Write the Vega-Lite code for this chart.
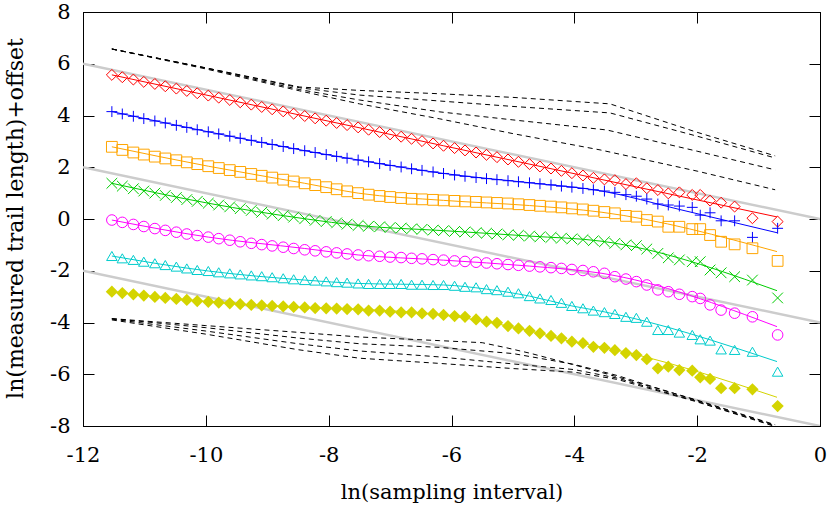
{
"$schema":"https://vega.github.io/schema/vega-lite/v6.json",
"width":737,"height":414,
"autosize":{"type":"none"},
"padding":{"left":83,"top":12,"right":10,"bottom":83},
"background":"white",
"config":{
 "view":{"stroke":"black","strokeWidth":1},
 "font":"DejaVu Serif",
 "axis":{"labelFont":"DejaVu Serif","titleFont":"DejaVu Serif","labelFontSize":21,"titleFontSize":22,"titleFontWeight":"normal","labelColor":"black","titleColor":"black","domainColor":"black","tickColor":"black","grid":false,"tickSize":-11,"labelFlush":false,"labelOverlap":false,"labelBound":false}
},
"datasets":{
"gray":[
{"g":"g1","x":-12,"y":6},{"g":"g1","x":0,"y":0},
{"g":"g2","x":-12,"y":2},{"g":"g2","x":0,"y":-4},
{"g":"g3","x":-12,"y":-2},{"g":"g3","x":0,"y":-8}
],
"dash":[
{"g":"t1","x":-11.53,"y":6.57},{"g":"t1","x":-10,"y":5.84},{"g":"t1","x":-8.47,"y":5.1},{"g":"t1","x":-7.5,"y":4.97},{"g":"t1","x":-6.19,"y":4.84},{"g":"t1","x":-5,"y":4.7},{"g":"t1","x":-3.42,"y":4.45},{"g":"t1","x":-2,"y":3.35},{"g":"t1","x":-0.73,"y":2.44},
{"g":"t2","x":-11.53,"y":6.57},{"g":"t2","x":-10,"y":5.84},{"g":"t2","x":-8.47,"y":5.07},{"g":"t2","x":-7.5,"y":4.79},{"g":"t2","x":-6.19,"y":4.56},{"g":"t2","x":-5,"y":4.35},{"g":"t2","x":-3.42,"y":4.1},{"g":"t2","x":-2,"y":3.2},{"g":"t2","x":-0.73,"y":2.36},
{"g":"t3","x":-11.53,"y":6.57},{"g":"t3","x":-10,"y":5.83},{"g":"t3","x":-8.47,"y":5.0},{"g":"t3","x":-7.5,"y":4.6},{"g":"t3","x":-6.19,"y":4.14},{"g":"t3","x":-5,"y":3.83},{"g":"t3","x":-3.47,"y":3.44},{"g":"t3","x":-2,"y":2.62},{"g":"t3","x":-0.73,"y":1.9},
{"g":"t4","x":-11.53,"y":6.57},{"g":"t4","x":-10,"y":5.8},{"g":"t4","x":-8.47,"y":4.95},{"g":"t4","x":-7.5,"y":4.45},{"g":"t4","x":-6.19,"y":3.87},{"g":"t4","x":-5,"y":3.3},{"g":"t4","x":-3.58,"y":2.67},{"g":"t4","x":-2,"y":1.85},{"g":"t4","x":-0.73,"y":1.13},
{"g":"b1","x":-11.53,"y":-3.85},{"g":"b1","x":-10,"y":-4.12},{"g":"b1","x":-8.5,"y":-4.38},{"g":"b1","x":-7.5,"y":-4.56},{"g":"b1","x":-6.2,"y":-4.7},{"g":"b1","x":-5.5,"y":-4.78},{"g":"b1","x":-5.1,"y":-4.98},{"g":"b1","x":-4.7,"y":-5.2},{"g":"b1","x":-4.0,"y":-5.64},{"g":"b1","x":-3.3,"y":-6.1},{"g":"b1","x":-2,"y":-7.0},{"g":"b1","x":-0.73,"y":-7.95},
{"g":"b2","x":-11.53,"y":-3.85},{"g":"b2","x":-10,"y":-4.2},{"g":"b2","x":-8.5,"y":-4.6},{"g":"b2","x":-7.5,"y":-4.82},{"g":"b2","x":-6.2,"y":-4.96},{"g":"b2","x":-5,"y":-5.2},{"g":"b2","x":-4,"y":-5.62},{"g":"b2","x":-3.3,"y":-6.05},{"g":"b2","x":-2,"y":-7.02},{"g":"b2","x":-0.73,"y":-7.97},
{"g":"b3","x":-11.53,"y":-3.87},{"g":"b3","x":-10,"y":-4.33},{"g":"b3","x":-8.5,"y":-4.82},{"g":"b3","x":-7.5,"y":-5.1},{"g":"b3","x":-6.2,"y":-5.33},{"g":"b3","x":-5,"y":-5.6},{"g":"b3","x":-4,"y":-5.82},{"g":"b3","x":-3.3,"y":-6.15},{"g":"b3","x":-2,"y":-7.05},{"g":"b3","x":-0.73,"y":-8.0},
{"g":"b4","x":-11.53,"y":-3.9},{"g":"b4","x":-10,"y":-4.45},{"g":"b4","x":-8.5,"y":-5.05},{"g":"b4","x":-7.5,"y":-5.38},{"g":"b4","x":-6.2,"y":-5.58},{"g":"b4","x":-5,"y":-5.78},{"g":"b4","x":-4,"y":-5.92},{"g":"b4","x":-3.3,"y":-6.2},{"g":"b4","x":-2,"y":-7.07},{"g":"b4","x":-0.73,"y":-8.02}
],
"fit":[
{"s":"A","x":-11.53,"y":5.57},{"s":"A","x":-6.13,"y":2.83},{"s":"A","x":-0.70,"y":0.08},
{"s":"B","x":-11.53,"y":4.15},{"s":"B","x":-9.96,"y":3.37},{"s":"B","x":-8.39,"y":2.64},{"s":"B","x":-7.52,"y":2.28},{"s":"B","x":-6.13,"y":1.76},{"s":"B","x":-4.73,"y":1.40},{"s":"B","x":-3.55,"y":1.08},{"s":"B","x":-2.29,"y":0.37},{"s":"B","x":-0.70,"y":-0.53},
{"s":"C","x":-11.53,"y":2.79},{"s":"C","x":-9.96,"y":2.04},{"s":"C","x":-8.39,"y":1.38},{"s":"C","x":-7.52,"y":1.0},{"s":"C","x":-6.13,"y":0.72},{"s":"C","x":-4.73,"y":0.52},{"s":"C","x":-3.55,"y":0.26},{"s":"C","x":-0.70,"y":-1.26},
{"s":"D","x":-11.53,"y":1.38},{"s":"D","x":-9.96,"y":0.61},{"s":"D","x":-8.39,"y":0.01},{"s":"D","x":-7.52,"y":-0.25},{"s":"D","x":-6.13,"y":-0.45},{"s":"D","x":-4.73,"y":-0.66},{"s":"D","x":-3.55,"y":-0.86},{"s":"D","x":-0.70,"y":-2.77},
{"s":"E","x":-11.53,"y":-0.04},{"s":"E","x":-9.96,"y":-0.70},{"s":"E","x":-8.39,"y":-1.14},{"s":"E","x":-7.52,"y":-1.39},{"s":"E","x":-6.13,"y":-1.59},{"s":"E","x":-4.73,"y":-1.82},{"s":"E","x":-3.55,"y":-2.10},{"s":"E","x":-0.70,"y":-4.16},
{"s":"F","x":-11.53,"y":-1.43},{"s":"F","x":-9.96,"y":-2.01},{"s":"F","x":-8.39,"y":-2.36},{"s":"F","x":-7.52,"y":-2.49},{"s":"F","x":-6.13,"y":-2.55},{"s":"F","x":-5.43,"y":-2.71},{"s":"F","x":-4.73,"y":-2.98},{"s":"F","x":-4.04,"y":-3.36},{"s":"F","x":-3.55,"y":-3.57},{"s":"F","x":-0.70,"y":-5.51},
{"s":"G","x":-11.53,"y":-2.81},{"s":"G","x":-9.96,"y":-3.20},{"s":"G","x":-8.39,"y":-3.42},{"s":"G","x":-7.52,"y":-3.49},{"s":"G","x":-6.13,"y":-3.71},{"s":"G","x":-5.43,"y":-3.97},{"s":"G","x":-4.73,"y":-4.32},{"s":"G","x":-4.04,"y":-4.74},{"s":"G","x":-3.55,"y":-4.95},{"s":"G","x":-0.70,"y":-6.89}
],
"pts":[
{"s":"A","x":-11.53,"y":5.57},{"s":"A","x":-11.36,"y":5.48},{"s":"A","x":-11.18,"y":5.39},{"s":"A","x":-11.01,"y":5.30},{"s":"A","x":-10.83,"y":5.22},{"s":"A","x":-10.66,"y":5.13},{"s":"A","x":-10.48,"y":5.04},{"s":"A","x":-10.31,"y":4.95},{"s":"A","x":-10.14,"y":4.86},{"s":"A","x":-9.96,"y":4.77},{"s":"A","x":-9.79,"y":4.69},{"s":"A","x":-9.61,"y":4.60},{"s":"A","x":-9.44,"y":4.51},{"s":"A","x":-9.26,"y":4.42},{"s":"A","x":-9.09,"y":4.33},{"s":"A","x":-8.92,"y":4.24},{"s":"A","x":-8.74,"y":4.16},{"s":"A","x":-8.57,"y":4.07},{"s":"A","x":-8.39,"y":3.98},{"s":"A","x":-8.22,"y":3.89},{"s":"A","x":-8.04,"y":3.80},{"s":"A","x":-7.87,"y":3.71},{"s":"A","x":-7.70,"y":3.63},{"s":"A","x":-7.52,"y":3.54},{"s":"A","x":-7.35,"y":3.45},{"s":"A","x":-7.17,"y":3.36},{"s":"A","x":-7.00,"y":3.27},{"s":"A","x":-6.82,"y":3.18},{"s":"A","x":-6.65,"y":3.10},{"s":"A","x":-6.48,"y":3.01},{"s":"A","x":-6.30,"y":2.92},{"s":"A","x":-6.13,"y":2.83},{"s":"A","x":-5.95,"y":2.74},{"s":"A","x":-5.78,"y":2.65},{"s":"A","x":-5.60,"y":2.57},{"s":"A","x":-5.43,"y":2.48},{"s":"A","x":-5.26,"y":2.39},{"s":"A","x":-5.08,"y":2.30},{"s":"A","x":-4.91,"y":2.21},{"s":"A","x":-4.73,"y":2.12},{"s":"A","x":-4.56,"y":2.03},{"s":"A","x":-4.38,"y":1.95},{"s":"A","x":-4.21,"y":1.86},{"s":"A","x":-4.04,"y":1.77},{"s":"A","x":-3.86,"y":1.68},{"s":"A","x":-3.69,"y":1.59},{"s":"A","x":-3.51,"y":1.53},{"s":"A","x":-3.34,"y":1.50},{"s":"A","x":-3.16,"y":1.35},{"s":"A","x":-2.99,"y":1.38},{"s":"A","x":-2.82,"y":1.19},{"s":"A","x":-2.64,"y":1.12},{"s":"A","x":-2.47,"y":0.99},{"s":"A","x":-2.29,"y":1.03},{"s":"A","x":-2.08,"y":0.93},{"s":"A","x":-1.95,"y":0.93},{"s":"A","x":-1.79,"y":0.71},{"s":"A","x":-1.61,"y":0.63},{"s":"A","x":-1.39,"y":0.48},{"s":"A","x":-1.10,"y":0.03},{"s":"A","x":-0.69,"y":-0.10},
{"s":"B","x":-11.53,"y":4.15},{"s":"B","x":-11.36,"y":4.06},{"s":"B","x":-11.18,"y":3.97},{"s":"B","x":-11.01,"y":3.88},{"s":"B","x":-10.83,"y":3.79},{"s":"B","x":-10.66,"y":3.71},{"s":"B","x":-10.48,"y":3.62},{"s":"B","x":-10.31,"y":3.54},{"s":"B","x":-10.14,"y":3.45},{"s":"B","x":-9.96,"y":3.37},{"s":"B","x":-9.79,"y":3.29},{"s":"B","x":-9.61,"y":3.20},{"s":"B","x":-9.44,"y":3.12},{"s":"B","x":-9.26,"y":3.04},{"s":"B","x":-9.09,"y":2.96},{"s":"B","x":-8.92,"y":2.88},{"s":"B","x":-8.74,"y":2.80},{"s":"B","x":-8.57,"y":2.72},{"s":"B","x":-8.39,"y":2.64},{"s":"B","x":-8.22,"y":2.57},{"s":"B","x":-8.04,"y":2.49},{"s":"B","x":-7.87,"y":2.42},{"s":"B","x":-7.70,"y":2.35},{"s":"B","x":-7.52,"y":2.28},{"s":"B","x":-7.35,"y":2.21},{"s":"B","x":-7.17,"y":2.14},{"s":"B","x":-7.00,"y":2.07},{"s":"B","x":-6.82,"y":2.01},{"s":"B","x":-6.65,"y":1.94},{"s":"B","x":-6.48,"y":1.88},{"s":"B","x":-6.30,"y":1.82},{"s":"B","x":-6.13,"y":1.76},{"s":"B","x":-5.95,"y":1.70},{"s":"B","x":-5.78,"y":1.65},{"s":"B","x":-5.60,"y":1.60},{"s":"B","x":-5.43,"y":1.56},{"s":"B","x":-5.26,"y":1.52},{"s":"B","x":-5.08,"y":1.48},{"s":"B","x":-4.91,"y":1.44},{"s":"B","x":-4.73,"y":1.40},{"s":"B","x":-4.56,"y":1.36},{"s":"B","x":-4.38,"y":1.32},{"s":"B","x":-4.21,"y":1.27},{"s":"B","x":-4.04,"y":1.23},{"s":"B","x":-3.86,"y":1.18},{"s":"B","x":-3.69,"y":1.13},{"s":"B","x":-3.51,"y":1.08},{"s":"B","x":-3.34,"y":1.03},{"s":"B","x":-3.16,"y":0.94},{"s":"B","x":-2.99,"y":0.88},{"s":"B","x":-2.82,"y":0.77},{"s":"B","x":-2.64,"y":0.58},{"s":"B","x":-2.47,"y":0.54},{"s":"B","x":-2.29,"y":0.50},{"s":"B","x":-2.08,"y":0.45},{"s":"B","x":-1.95,"y":0.15},{"s":"B","x":-1.79,"y":0.24},{"s":"B","x":-1.61,"y":-0.07},{"s":"B","x":-1.39,"y":-0.07},{"s":"B","x":-1.10,"y":-0.71},{"s":"B","x":-0.69,"y":-0.36},
{"s":"C","x":-11.53,"y":2.79},{"s":"C","x":-11.36,"y":2.67},{"s":"C","x":-11.18,"y":2.57},{"s":"C","x":-11.01,"y":2.49},{"s":"C","x":-10.83,"y":2.41},{"s":"C","x":-10.66,"y":2.34},{"s":"C","x":-10.48,"y":2.27},{"s":"C","x":-10.31,"y":2.19},{"s":"C","x":-10.14,"y":2.12},{"s":"C","x":-9.96,"y":2.04},{"s":"C","x":-9.79,"y":1.97},{"s":"C","x":-9.61,"y":1.89},{"s":"C","x":-9.44,"y":1.82},{"s":"C","x":-9.26,"y":1.74},{"s":"C","x":-9.09,"y":1.67},{"s":"C","x":-8.92,"y":1.60},{"s":"C","x":-8.74,"y":1.52},{"s":"C","x":-8.57,"y":1.45},{"s":"C","x":-8.39,"y":1.38},{"s":"C","x":-8.22,"y":1.31},{"s":"C","x":-8.04,"y":1.23},{"s":"C","x":-7.87,"y":1.15},{"s":"C","x":-7.70,"y":1.07},{"s":"C","x":-7.52,"y":1.00},{"s":"C","x":-7.35,"y":0.94},{"s":"C","x":-7.17,"y":0.89},{"s":"C","x":-7.00,"y":0.85},{"s":"C","x":-6.82,"y":0.81},{"s":"C","x":-6.65,"y":0.78},{"s":"C","x":-6.48,"y":0.76},{"s":"C","x":-6.30,"y":0.74},{"s":"C","x":-6.13,"y":0.72},{"s":"C","x":-5.95,"y":0.70},{"s":"C","x":-5.78,"y":0.68},{"s":"C","x":-5.60,"y":0.66},{"s":"C","x":-5.43,"y":0.64},{"s":"C","x":-5.26,"y":0.62},{"s":"C","x":-5.08,"y":0.60},{"s":"C","x":-4.91,"y":0.57},{"s":"C","x":-4.73,"y":0.54},{"s":"C","x":-4.56,"y":0.51},{"s":"C","x":-4.38,"y":0.48},{"s":"C","x":-4.21,"y":0.45},{"s":"C","x":-4.04,"y":0.41},{"s":"C","x":-3.86,"y":0.37},{"s":"C","x":-3.69,"y":0.32},{"s":"C","x":-3.51,"y":0.27},{"s":"C","x":-3.34,"y":0.22},{"s":"C","x":-3.16,"y":0.12},{"s":"C","x":-2.99,"y":0.09},{"s":"C","x":-2.82,"y":-0.04},{"s":"C","x":-2.64,"y":-0.10},{"s":"C","x":-2.47,"y":-0.30},{"s":"C","x":-2.29,"y":-0.30},{"s":"C","x":-2.08,"y":-0.39},{"s":"C","x":-1.95,"y":-0.39},{"s":"C","x":-1.79,"y":-0.62},{"s":"C","x":-1.61,"y":-0.88},{"s":"C","x":-1.39,"y":-0.98},{"s":"C","x":-1.10,"y":-1.13},{"s":"C","x":-0.69,"y":-1.62},
{"s":"D","x":-11.53,"y":1.38},{"s":"D","x":-11.36,"y":1.27},{"s":"D","x":-11.18,"y":1.17},{"s":"D","x":-11.01,"y":1.08},{"s":"D","x":-10.83,"y":1.00},{"s":"D","x":-10.66,"y":0.91},{"s":"D","x":-10.48,"y":0.83},{"s":"D","x":-10.31,"y":0.75},{"s":"D","x":-10.14,"y":0.68},{"s":"D","x":-9.96,"y":0.61},{"s":"D","x":-9.79,"y":0.54},{"s":"D","x":-9.61,"y":0.47},{"s":"D","x":-9.44,"y":0.40},{"s":"D","x":-9.26,"y":0.33},{"s":"D","x":-9.09,"y":0.26},{"s":"D","x":-8.92,"y":0.19},{"s":"D","x":-8.74,"y":0.13},{"s":"D","x":-8.57,"y":0.07},{"s":"D","x":-8.39,"y":0.01},{"s":"D","x":-8.22,"y":-0.05},{"s":"D","x":-8.04,"y":-0.10},{"s":"D","x":-7.87,"y":-0.15},{"s":"D","x":-7.70,"y":-0.20},{"s":"D","x":-7.52,"y":-0.25},{"s":"D","x":-7.35,"y":-0.28},{"s":"D","x":-7.17,"y":-0.30},{"s":"D","x":-7.00,"y":-0.33},{"s":"D","x":-6.82,"y":-0.35},{"s":"D","x":-6.65,"y":-0.38},{"s":"D","x":-6.48,"y":-0.40},{"s":"D","x":-6.30,"y":-0.43},{"s":"D","x":-6.13,"y":-0.45},{"s":"D","x":-5.95,"y":-0.48},{"s":"D","x":-5.78,"y":-0.50},{"s":"D","x":-5.60,"y":-0.53},{"s":"D","x":-5.43,"y":-0.55},{"s":"D","x":-5.26,"y":-0.58},{"s":"D","x":-5.08,"y":-0.61},{"s":"D","x":-4.91,"y":-0.63},{"s":"D","x":-4.73,"y":-0.66},{"s":"D","x":-4.56,"y":-0.69},{"s":"D","x":-4.38,"y":-0.71},{"s":"D","x":-4.21,"y":-0.74},{"s":"D","x":-4.04,"y":-0.77},{"s":"D","x":-3.86,"y":-0.80},{"s":"D","x":-3.69,"y":-0.84},{"s":"D","x":-3.51,"y":-0.88},{"s":"D","x":-3.34,"y":-0.94},{"s":"D","x":-3.16,"y":-1.00},{"s":"D","x":-2.99,"y":-1.03},{"s":"D","x":-2.82,"y":-1.16},{"s":"D","x":-2.64,"y":-1.33},{"s":"D","x":-2.47,"y":-1.50},{"s":"D","x":-2.29,"y":-1.58},{"s":"D","x":-2.08,"y":-1.65},{"s":"D","x":-1.95,"y":-1.65},{"s":"D","x":-1.79,"y":-1.97},{"s":"D","x":-1.61,"y":-2.08},{"s":"D","x":-1.39,"y":-2.23},{"s":"D","x":-1.10,"y":-2.36},{"s":"D","x":-0.69,"y":-3.05},
{"s":"E","x":-11.53,"y":-0.04},{"s":"E","x":-11.36,"y":-0.13},{"s":"E","x":-11.18,"y":-0.21},{"s":"E","x":-11.01,"y":-0.29},{"s":"E","x":-10.83,"y":-0.37},{"s":"E","x":-10.66,"y":-0.44},{"s":"E","x":-10.48,"y":-0.51},{"s":"E","x":-10.31,"y":-0.58},{"s":"E","x":-10.14,"y":-0.64},{"s":"E","x":-9.96,"y":-0.70},{"s":"E","x":-9.79,"y":-0.76},{"s":"E","x":-9.61,"y":-0.82},{"s":"E","x":-9.44,"y":-0.88},{"s":"E","x":-9.26,"y":-0.94},{"s":"E","x":-9.09,"y":-0.99},{"s":"E","x":-8.92,"y":-1.04},{"s":"E","x":-8.74,"y":-1.09},{"s":"E","x":-8.57,"y":-1.14},{"s":"E","x":-8.39,"y":-1.19},{"s":"E","x":-8.22,"y":-1.23},{"s":"E","x":-8.04,"y":-1.27},{"s":"E","x":-7.87,"y":-1.31},{"s":"E","x":-7.70,"y":-1.35},{"s":"E","x":-7.52,"y":-1.39},{"s":"E","x":-7.35,"y":-1.42},{"s":"E","x":-7.17,"y":-1.44},{"s":"E","x":-7.00,"y":-1.47},{"s":"E","x":-6.82,"y":-1.49},{"s":"E","x":-6.65,"y":-1.52},{"s":"E","x":-6.48,"y":-1.54},{"s":"E","x":-6.30,"y":-1.57},{"s":"E","x":-6.13,"y":-1.59},{"s":"E","x":-5.95,"y":-1.62},{"s":"E","x":-5.78,"y":-1.64},{"s":"E","x":-5.60,"y":-1.67},{"s":"E","x":-5.43,"y":-1.70},{"s":"E","x":-5.26,"y":-1.73},{"s":"E","x":-5.08,"y":-1.76},{"s":"E","x":-4.91,"y":-1.79},{"s":"E","x":-4.73,"y":-1.82},{"s":"E","x":-4.56,"y":-1.85},{"s":"E","x":-4.38,"y":-1.88},{"s":"E","x":-4.21,"y":-1.91},{"s":"E","x":-4.04,"y":-1.95},{"s":"E","x":-3.86,"y":-1.99},{"s":"E","x":-3.69,"y":-2.04},{"s":"E","x":-3.51,"y":-2.10},{"s":"E","x":-3.34,"y":-2.23},{"s":"E","x":-3.16,"y":-2.32},{"s":"E","x":-2.99,"y":-2.42},{"s":"E","x":-2.82,"y":-2.55},{"s":"E","x":-2.64,"y":-2.74},{"s":"E","x":-2.47,"y":-2.81},{"s":"E","x":-2.29,"y":-2.91},{"s":"E","x":-2.08,"y":-3.00},{"s":"E","x":-1.95,"y":-3.07},{"s":"E","x":-1.79,"y":-3.32},{"s":"E","x":-1.61,"y":-3.52},{"s":"E","x":-1.39,"y":-3.64},{"s":"E","x":-1.10,"y":-3.78},{"s":"E","x":-0.69,"y":-4.48},
{"s":"F","x":-11.53,"y":-1.43},{"s":"F","x":-11.36,"y":-1.52},{"s":"F","x":-11.18,"y":-1.58},{"s":"F","x":-11.01,"y":-1.65},{"s":"F","x":-10.83,"y":-1.71},{"s":"F","x":-10.66,"y":-1.78},{"s":"F","x":-10.48,"y":-1.84},{"s":"F","x":-10.31,"y":-1.91},{"s":"F","x":-10.14,"y":-1.97},{"s":"F","x":-9.96,"y":-2.01},{"s":"F","x":-9.79,"y":-2.06},{"s":"F","x":-9.61,"y":-2.10},{"s":"F","x":-9.44,"y":-2.14},{"s":"F","x":-9.26,"y":-2.18},{"s":"F","x":-9.09,"y":-2.21},{"s":"F","x":-8.92,"y":-2.25},{"s":"F","x":-8.74,"y":-2.29},{"s":"F","x":-8.57,"y":-2.33},{"s":"F","x":-8.39,"y":-2.36},{"s":"F","x":-8.22,"y":-2.38},{"s":"F","x":-8.04,"y":-2.41},{"s":"F","x":-7.87,"y":-2.44},{"s":"F","x":-7.70,"y":-2.46},{"s":"F","x":-7.52,"y":-2.49},{"s":"F","x":-7.35,"y":-2.51},{"s":"F","x":-7.17,"y":-2.51},{"s":"F","x":-7.00,"y":-2.51},{"s":"F","x":-6.82,"y":-2.51},{"s":"F","x":-6.65,"y":-2.54},{"s":"F","x":-6.48,"y":-2.54},{"s":"F","x":-6.30,"y":-2.55},{"s":"F","x":-6.13,"y":-2.55},{"s":"F","x":-5.95,"y":-2.58},{"s":"F","x":-5.78,"y":-2.62},{"s":"F","x":-5.60,"y":-2.64},{"s":"F","x":-5.43,"y":-2.71},{"s":"F","x":-5.26,"y":-2.75},{"s":"F","x":-5.08,"y":-2.81},{"s":"F","x":-4.91,"y":-2.87},{"s":"F","x":-4.73,"y":-2.98},{"s":"F","x":-4.56,"y":-3.07},{"s":"F","x":-4.38,"y":-3.13},{"s":"F","x":-4.21,"y":-3.24},{"s":"F","x":-4.04,"y":-3.36},{"s":"F","x":-3.86,"y":-3.45},{"s":"F","x":-3.69,"y":-3.54},{"s":"F","x":-3.51,"y":-3.60},{"s":"F","x":-3.34,"y":-3.67},{"s":"F","x":-3.16,"y":-3.78},{"s":"F","x":-2.99,"y":-3.82},{"s":"F","x":-2.82,"y":-3.97},{"s":"F","x":-2.64,"y":-4.29},{"s":"F","x":-2.47,"y":-4.29},{"s":"F","x":-2.29,"y":-4.39},{"s":"F","x":-2.08,"y":-4.48},{"s":"F","x":-1.95,"y":-4.65},{"s":"F","x":-1.79,"y":-4.70},{"s":"F","x":-1.61,"y":-5.04},{"s":"F","x":-1.39,"y":-5.06},{"s":"F","x":-1.10,"y":-5.13},{"s":"F","x":-0.69,"y":-5.90},
{"s":"G","x":-11.53,"y":-2.81},{"s":"G","x":-11.36,"y":-2.86},{"s":"G","x":-11.18,"y":-2.91},{"s":"G","x":-11.01,"y":-2.96},{"s":"G","x":-10.83,"y":-3.01},{"s":"G","x":-10.66,"y":-3.05},{"s":"G","x":-10.48,"y":-3.09},{"s":"G","x":-10.31,"y":-3.13},{"s":"G","x":-10.14,"y":-3.17},{"s":"G","x":-9.96,"y":-3.20},{"s":"G","x":-9.79,"y":-3.23},{"s":"G","x":-9.61,"y":-3.26},{"s":"G","x":-9.44,"y":-3.29},{"s":"G","x":-9.26,"y":-3.32},{"s":"G","x":-9.09,"y":-3.34},{"s":"G","x":-8.92,"y":-3.36},{"s":"G","x":-8.74,"y":-3.38},{"s":"G","x":-8.57,"y":-3.40},{"s":"G","x":-8.39,"y":-3.42},{"s":"G","x":-8.22,"y":-3.44},{"s":"G","x":-8.04,"y":-3.45},{"s":"G","x":-7.87,"y":-3.46},{"s":"G","x":-7.70,"y":-3.48},{"s":"G","x":-7.52,"y":-3.49},{"s":"G","x":-7.35,"y":-3.54},{"s":"G","x":-7.17,"y":-3.54},{"s":"G","x":-7.00,"y":-3.58},{"s":"G","x":-6.82,"y":-3.61},{"s":"G","x":-6.65,"y":-3.61},{"s":"G","x":-6.48,"y":-3.65},{"s":"G","x":-6.30,"y":-3.67},{"s":"G","x":-6.13,"y":-3.71},{"s":"G","x":-5.95,"y":-3.75},{"s":"G","x":-5.78,"y":-3.78},{"s":"G","x":-5.60,"y":-3.88},{"s":"G","x":-5.43,"y":-3.97},{"s":"G","x":-5.26,"y":-4.01},{"s":"G","x":-5.08,"y":-4.14},{"s":"G","x":-4.91,"y":-4.23},{"s":"G","x":-4.73,"y":-4.32},{"s":"G","x":-4.56,"y":-4.42},{"s":"G","x":-4.38,"y":-4.52},{"s":"G","x":-4.21,"y":-4.61},{"s":"G","x":-4.04,"y":-4.74},{"s":"G","x":-3.86,"y":-4.80},{"s":"G","x":-3.69,"y":-4.94},{"s":"G","x":-3.51,"y":-4.98},{"s":"G","x":-3.34,"y":-5.07},{"s":"G","x":-3.16,"y":-5.18},{"s":"G","x":-2.99,"y":-5.26},{"s":"G","x":-2.82,"y":-5.42},{"s":"G","x":-2.64,"y":-5.77},{"s":"G","x":-2.47,"y":-5.71},{"s":"G","x":-2.29,"y":-5.84},{"s":"G","x":-2.08,"y":-5.86},{"s":"G","x":-1.95,"y":-6.12},{"s":"G","x":-1.79,"y":-6.18},{"s":"G","x":-1.61,"y":-6.54},{"s":"G","x":-1.39,"y":-6.54},{"s":"G","x":-1.10,"y":-6.58},{"s":"G","x":-0.69,"y":-7.23}
]
},
"resolve":{"axis":{"x":"independent","y":"independent"}},
"layer":[
{"data":{"name":"gray"},
 "mark":{"type":"line","color":"#cccccc","strokeWidth":2.5,"clip":true},
 "encoding":{
  "x":{"field":"x","type":"quantitative","scale":{"domain":[-12,0],"nice":false,"zero":false},
       "axis":{"orient":"bottom","values":[-12,-10,-8,-6,-4,-2,0],"labelExpr":"'' + datum.value","labelPadding":29,"title":"ln(sampling interval)","titleFontSize":21,"titleY":66,"titleBaseline":"middle"}},
  "y":{"field":"y","type":"quantitative","scale":{"domain":[-8,8],"nice":false,"zero":false},
       "axis":{"orient":"left","values":[-8,-6,-4,-2,0,2,4,6,8],"labelExpr":"'' + datum.value","labelPadding":24,"title":"ln(measured trail length)+offset","titleX":-68,"titleY":206,"titleBaseline":"middle","titleAngle":-90,"titleAlign":"center"}},
  "detail":{"field":"g"}
 }},
{"data":{"name":"dash"},
 "mark":{"type":"line","color":"black","strokeWidth":1,"strokeDash":[5,4]},
 "encoding":{
  "x":{"field":"x","type":"quantitative","axis":{"orient":"top","values":[-12,-10,-8,-6,-4,-2,0],"labels":false,"title":null}},
  "y":{"field":"y","type":"quantitative","axis":{"orient":"right","values":[-8,-6,-4,-2,0,2,4,6,8],"labels":false,"title":null}},
  "detail":{"field":"g"}
 }},
{"data":{"name":"fit"},
 "mark":{"type":"line","strokeWidth":1,"interpolate":"monotone"},
 "encoding":{
  "x":{"field":"x","type":"quantitative","axis":null},
  "y":{"field":"y","type":"quantitative","axis":null},
  "color":{"field":"s","type":"nominal","scale":{"domain":["A","B","C","D","E","F","G"],"range":["#ff0000","#0000ff","#ffa500","#00cc00","#ff00ff","#00cccc","#d4d400"]},"legend":null}
 }},
{"data":{"name":"pts"},
 "transform":[{"filter":"datum.s != 'G'"}],
 "mark":{"type":"point","filled":false,"strokeWidth":1,"opacity":1},
 "encoding":{
  "x":{"field":"x","type":"quantitative","axis":null},
  "y":{"field":"y","type":"quantitative","axis":null},
  "color":{"field":"s","type":"nominal","scale":{"domain":["A","B","C","D","E","F","G"],"range":["#ff0000","#0000ff","#ffa500","#00cc00","#ff00ff","#00cccc","#d4d400"]},"legend":null},
  "shape":{"field":"s","type":"nominal","scale":{"domain":["A","B","C","D","E","F"],"range":["diamond","M-1,0L1,0M0,-1L0,1","square","M-1,-1L1,1M1,-1L-1,1","circle","triangle-up"]},"legend":null},
  "size":{"field":"s","type":"ordinal","scale":{"domain":["A","B","C","D","E","F"],"range":[120,110,100,70,100,125]},"legend":null}
 }},
{"data":{"name":"pts"},
 "transform":[{"filter":"datum.s == 'G'"}],
 "mark":{"type":"point","shape":"diamond","filled":true,"size":150,"color":"#d4d400","opacity":1},
 "encoding":{
  "x":{"field":"x","type":"quantitative","axis":null},
  "y":{"field":"y","type":"quantitative","axis":null}
 }}
]
}
